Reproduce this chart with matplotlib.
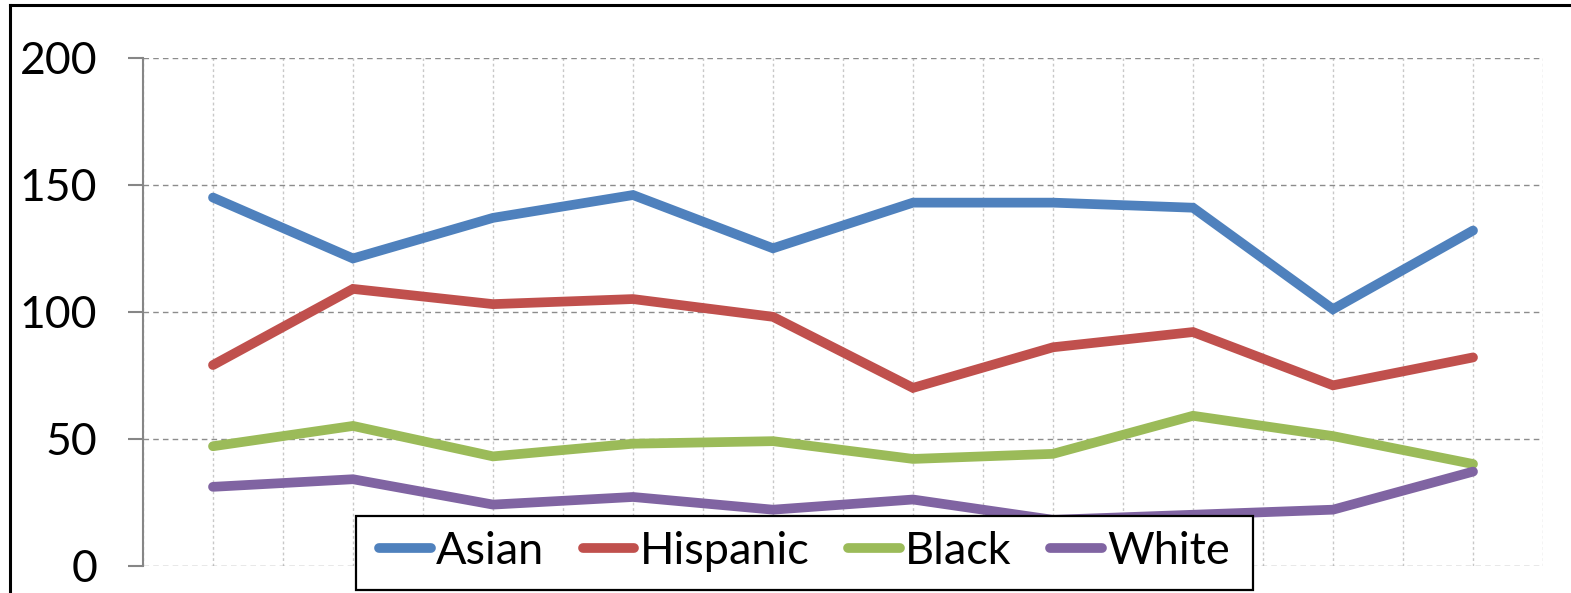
import matplotlib.pyplot as plt
from matplotlib.patches import Rectangle
import numpy as np

# Дані
series_names = ['Asian', 'Hispanic', 'Black', 'White']
asian = [145, 121, 137, 146, 125, 143, 143, 141, 101, 132]
hispanic = [79, 109, 103, 105, 98, 70, 86, 92, 71, 82]
black = [47, 55, 43, 48, 49, 42, 44, 59, 51, 40]
white = [31, 34, 24, 27, 22, 26, 18, 20, 22, 37]
colors = ['#4F81BD', '#C0504D', '#9BBB59', '#8064A2']
y_ticks = [0, 50, 100, 150, 200]

plt.rcParams['font.family'] = ['Lato', 'DejaVu Sans']

W, H = 1571, 593
fig = plt.figure(figsize=(W / 100, H / 100), dpi=100)
ax = fig.add_axes([143 / W, 1 - 565.5 / H, 1400 / W, 507.5 / H])

x = np.arange(len(asian))
for name, vals, c in zip(series_names, [asian, hispanic, black, white], colors):
    ax.plot(x, vals, color=c, lw=7.0, label=name,
            solid_capstyle='round', solid_joinstyle='miter')

ax.set_xlim(-0.5, len(asian) - 0.5)
ax.set_ylim(0, 200)
ax.set_yticks(y_ticks)
ax.set_xticks(np.arange(-0.5, len(asian), 0.5))
ax.set_xticklabels([])
ax.tick_params(axis='x', length=0)
ax.tick_params(axis='y', length=11, width=1.5, color='#868686', pad=22,
               labelsize=32)

ax.grid(axis='y', linestyle=(0, (4, 3)), color='#8C8C8C', lw=1)
ax.grid(axis='x', linestyle=(0, (2, 2)), color='#C8C8C8', lw=1)
ax.set_axisbelow(True)

for s in ['top', 'right', 'bottom']:
    ax.spines[s].set_visible(False)
ax.spines['left'].set_color('#868686')
ax.spines['left'].set_linewidth(1.5)

# Рамка легенди
box_x0, box_x1, box_y0, box_y1 = 356, 1253, 516, 590
fig.add_artist(Rectangle((box_x0 / W, 1 - box_y1 / H),
                         (box_x1 - box_x0) / W, (box_y1 - box_y0) / H,
                         transform=fig.transFigure, facecolor='white',
                         edgecolor='black', lw=1.6, zorder=5))
leg = fig.legend(loc='center',
                 bbox_to_anchor=((box_x0 + box_x1) / 2 / W, 1 - 551 / H),
                 ncol=4, fontsize=32.5, frameon=False,
                 handlelength=1.15, handletextpad=0.12, columnspacing=0.85,
                 borderpad=0, borderaxespad=0)
leg.set_zorder(6)

# Рамка рисунка
fig.add_artist(plt.Line2D([10 / W, 1.01], [1 - 5 / H, 1 - 5 / H],
                          color='black', lw=2.2, transform=fig.transFigure))
fig.add_artist(plt.Line2D([10 / W, 10 / W], [-0.01, 1 - 5 / H],
                          color='black', lw=2.2, transform=fig.transFigure))

fig.savefig('out.png', dpi=100)
